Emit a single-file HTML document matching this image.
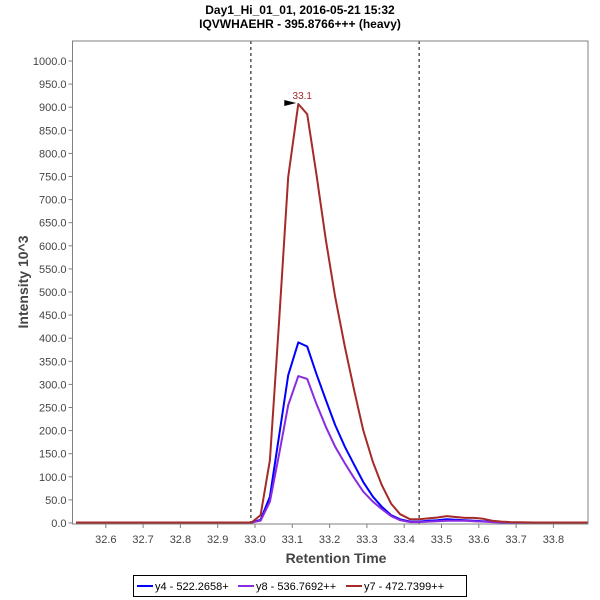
<!DOCTYPE html>
<html><head><meta charset="utf-8"><style>
html,body{margin:0;padding:0;background:#fff;}
svg{display:block;font-family:"Liberation Sans",sans-serif;}
</style></head><body>
<svg id="chart" width="600" height="600">
<text x="300" y="14" text-anchor="middle" font-size="12" font-weight="bold">Day1_Hi_01_01, 2016-05-21 15:32</text>
<text x="300" y="28" text-anchor="middle" font-size="12" font-weight="bold">IQVWHAEHR - 395.8766+++ (heavy)</text>
<text x="336" y="563" text-anchor="middle" font-size="14" font-weight="bold" fill="#444">Retention Time</text>
<text transform="translate(28,282) rotate(-90)" text-anchor="middle" font-size="14" font-weight="bold" fill="#444">Intensity 10^3</text>
<g id="grid"></g><g id="series"></g><g id="axes"></g>
<g>
<rect x="133.5" y="575.5" width="333" height="21" fill="#fff" stroke="#000"/>
<g><line x1="137" y1="586" x2="153" y2="586" stroke="#0000ff" stroke-width="2"/><text x="155" y="590" font-size="11">y4 - 522.2658+</text></g>
<g><line x1="238" y1="586" x2="254" y2="586" stroke="#8a2be2" stroke-width="2"/><text x="256" y="590" font-size="11">y8 - 536.7692++</text></g>
<g><line x1="346" y1="586" x2="362" y2="586" stroke="#a52a2a" stroke-width="2"/><text x="364" y="590" font-size="11">y7 - 472.7399++</text></g>
</g>
</svg>
<script>
const times = [32.52,32.60,32.70,32.80,32.90,32.966,32.991,33.015,33.040,33.065,33.089,33.116,33.140,33.164,33.190,33.215,33.241,33.266,33.290,33.316,33.340,33.365,33.389,33.416,33.440,33.465,33.489,33.514,33.538,33.563,33.587,33.612,33.636,33.661,33.685,33.75,33.893];
const y7Values = [1,1,1,1,1,1,1,17,136,440,749,907,885,758,612,489,381,287,201,132,82,42,19,8,8,10,12,15,13,11,11,9,5,3,2,1,1];
const y4Values = [1,1,1,1,1,1,1,7,57,190,320,391,382,324,266,212,165,126,89,57,35,17,8,3,3,5,6,8,7,6,5,4,3,2,1,1,1];
const y8Values = [1,1,1,1,1,1,1,5,46,150,255,318,312,259,208,165,129,97,68,46,30,15,6,2,2,3,4,5,5,5,4,3,2,1,1,1,1];
const xTicks = [32.6,32.7,32.8,32.9,33.0,33.1,33.2,33.3,33.4,33.5,33.6,33.7,33.8];
const yTicks = [0,50,100,150,200,250,300,350,400,450,500,550,600,650,700,750,800,850,900,950,1000];
const boundaries = [32.989,33.440];
const peakTime = 33.116, peakValue = 907, peakLabel = "33.1";
const L=72.5,R=588,T=41,B=524;
const xs = t => 255 + (t-33)*373;
const ys = v => 523 - v*0.462;
const NS="http://www.w3.org/2000/svg";
function mk(tag,attrs,parent){const e=document.createElementNS(NS,tag);for(const k in attrs)e.setAttribute(k,attrs[k]);parent.appendChild(e);return e;}
const axes=document.getElementById('axes'),series=document.getElementById('series'),grid=document.getElementById('grid');
boundaries.forEach((b,i)=>{const l=mk('line',{x1:xs(b),x2:xs(b),y1:T,y2:B,stroke:'#000','stroke-dasharray':'3,3','stroke-width':1},grid);

});
[[y4Values,'#0000ff','y4'],[y8Values,'#8a2be2','y8'],[y7Values,'#a52a2a','y7']].forEach(([vals,c,n])=>{
const p=mk('polyline',{points:times.map((t,i)=>xs(t).toFixed(1)+','+ys(vals[i]).toFixed(1)).join(' '),fill:'none',stroke:c,'stroke-width':2,'stroke-linejoin':'round'},series);

});
const px=xs(peakTime),py=ys(peakValue);
const tri=mk('polygon',{points:(px-14)+','+(py-4)+' '+(px-2)+','+(py-1)+' '+(px-14)+','+(py+2),fill:'#000'},series);


const pl=mk('text',{x:px+4,y:py-5,'text-anchor':'middle','font-size':10,fill:'#a52a2a'},series);pl.textContent=peakLabel;


const fr=mk('rect',{x:L,y:T,width:R-L,height:B-T,fill:'none',stroke:'#808080','stroke-width':1},axes);


yTicks.forEach(v=>{const y=ys(v);mk('line',{x1:L-4,x2:L,y1:y,y2:y,stroke:'#808080'},axes);
const t=mk('text',{x:L-6,y:y+4,'text-anchor':'end','font-size':11,fill:'#444'},axes);t.textContent=v.toFixed(1);

});
xTicks.forEach(v=>{const x=xs(v);mk('line',{x1:x,x2:x,y1:B,y2:B+4,stroke:'#808080'},axes);
const t=mk('text',{x:x,y:B+19,'text-anchor':'middle','font-size':11,fill:'#444'},axes);t.textContent=v.toFixed(1);

});
</script>
</body></html>
